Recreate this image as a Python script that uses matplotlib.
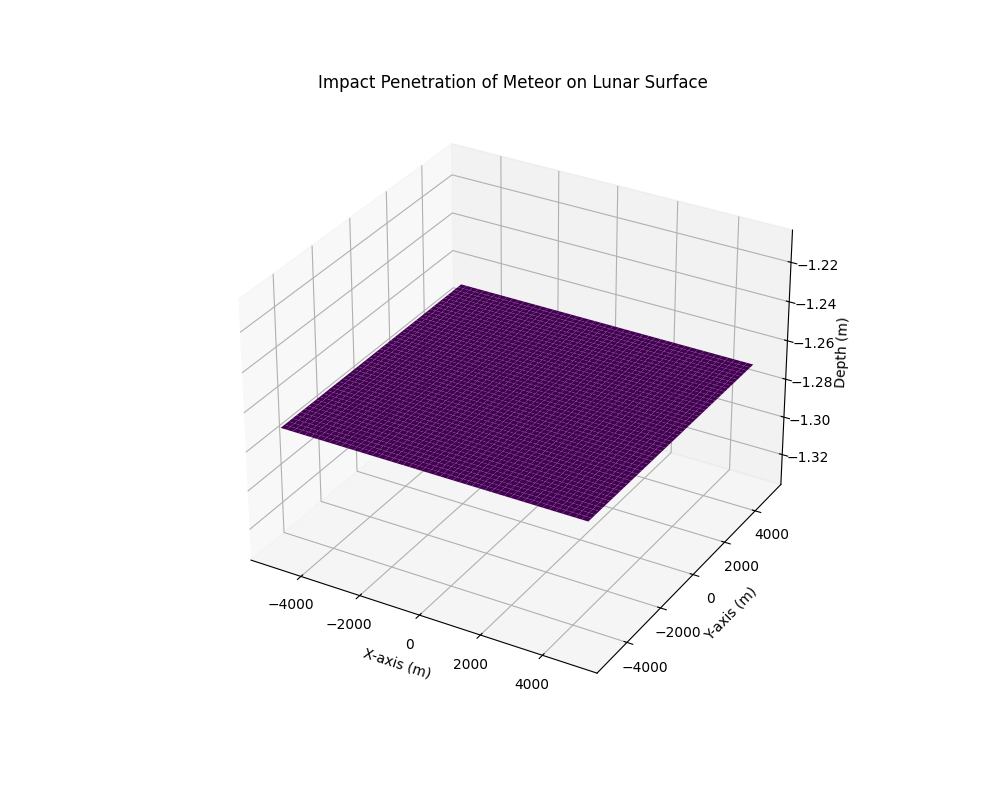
import numpy as np
import matplotlib
matplotlib.use('Agg')
import matplotlib.pyplot as plt

# Grid extent (m) and the flat penetration depth
x_range = [-5000, 5000]
y_range = [-5000, 5000]
n_points = 50
depth_value = -1.27

x = np.linspace(x_range[0], x_range[1], n_points)
y = np.linspace(y_range[0], y_range[1], n_points)
X, Y = np.meshgrid(x, y)
Z = np.full_like(X, depth_value)

fig = plt.figure(figsize=(10, 8))
ax = fig.add_subplot(111, projection='3d')
ax.plot_surface(X, Y, Z, cmap='viridis')

ax.set_title('Impact Penetration of Meteor on Lunar Surface')
ax.set_xlabel('X-axis (m)')
ax.set_ylabel('Y-axis (m)')
ax.set_zlabel('Depth (m)')

plt.savefig('out.png')
